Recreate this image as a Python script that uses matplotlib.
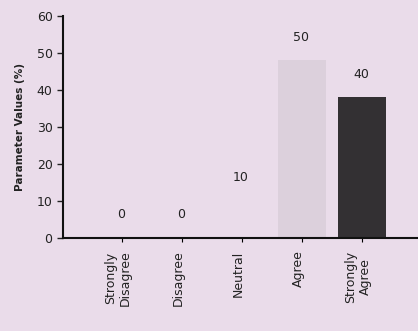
import matplotlib
matplotlib.use("Agg")
import matplotlib.pyplot as plt
import matplotlib.transforms as mtransforms

categories = ["Strongly\nDisagree", "Disagree", "Neutral", "Agree", "Strongly\nAgree"]
values = [0, 0, 10, 48, 38]
value_labels = ["0", "0", "10", "50", "40"]
bar_colors = ["#eadcea", "#eadcea", "#eadcea", "#dcd0dc", "#333033"]
y_ticks = [0, 10, 20, 30, 40, 50, 60]

bg = "#eadcea"
fig = plt.figure(figsize=(4.18, 3.31), dpi=100, facecolor=bg)
ax = fig.add_axes([63/418, 1-238/331, (418-63)/418, (238-16)/331], facecolor=bg)

x = list(range(len(categories)))
ax.bar(x, values, width=0.8, color=bar_colors, edgecolor="none", zorder=2)
for xi, v, lab in zip(x, values, value_labels):
    ax.text(xi - 0.02, v + 4.5, lab, ha="center", va="bottom", fontsize=9, color="#222222")

ax.set_xlim(-0.98, 4.93)
ax.set_ylim(0, 60)
ax.set_yticks(y_ticks)
ax.set_xticks(x)
ax.set_xticklabels(categories, rotation=90, fontsize=9, ha="center", va="top",
                   multialignment="center", color="#222222")
ax.tick_params(axis="y", labelsize=9, length=4, width=1, colors="#222222")
ax.tick_params(axis="x", length=3, width=0.8, pad=6)
offset = mtransforms.ScaledTranslation(-4/100, 0, fig.dpi_scale_trans)
for lbl in ax.get_xticklabels():
    lbl.set_transform(lbl.get_transform() + offset)
for s in ["top", "right"]:
    ax.spines[s].set_visible(False)
ax.spines["left"].set_linewidth(1.5)
ax.spines["bottom"].set_linewidth(1.5)
ax.spines["left"].set_color("#111111")
ax.spines["bottom"].set_color("#111111")
ax.set_ylabel("Parameter Values (%)", fontsize=7.5, fontweight="bold", color="#222222", labelpad=8)

fig.savefig("out.png", dpi=100, facecolor=bg)
